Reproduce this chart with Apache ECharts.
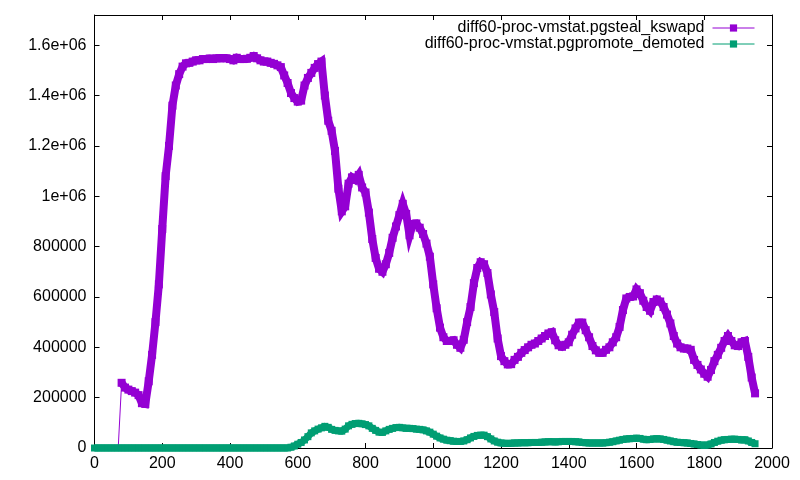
<!DOCTYPE html>
<html lang="en">
<head>
  <meta charset="UTF-8">
  <title>pgsteal_kswapd / pgpromote_demoted</title>
  <script src="https://cdn.jsdelivr.net/npm/echarts@6/dist/echarts.min.js"></script>
  <style>
    html, body { margin: 0; padding: 0; background: #fff; }
    #chart { width: 800px; height: 480px; }
  </style>
</head>
<body>
  <div id="chart"></div>

<script>
  // x positions, one sample every 10 units
  const xs = []
  for (let x = 0; x <= 1950; x += 10) xs.push(x)

  const kswapdName = 'diff60-proc-vmstat.pgsteal_kswapd'
  const demotedName = 'diff60-proc-vmstat.pgpromote_demoted'

  // 0 .. 1950
  const kswapd = [
    0, 0, 0, 0, 0, 0, 0, 0, 259000, 240000,
    232000, 226000, 220000, 210000, 178000, 175000, 265000, 370000, 500000, 650000,
    870000, 1080000, 1200000, 1360000, 1440000, 1485000, 1515000, 1528000, 1530000, 1535000,
    1540000, 1540000, 1545000, 1545000, 1547000, 1545000, 1548000, 1548000, 1549000, 1548000,
    1545000, 1540000, 1550000, 1545000, 1545000, 1546000, 1550000, 1557000, 1548000, 1540000,
    1535000, 1535000, 1530000, 1526000, 1520000, 1513000, 1480000, 1450000, 1410000, 1390000,
    1376000, 1380000, 1440000, 1470000, 1490000, 1510000, 1525000, 1535000, 1400000, 1300000,
    1260000, 1180000, 1030000, 940000, 960000, 1050000, 1075000, 1065000, 1085000, 1035000,
    1015000, 935000, 830000, 755000, 712000, 700000, 730000, 775000, 835000, 880000,
    925000, 970000, 930000, 845000, 890000, 892000, 875000, 850000, 812000, 760000,
    650000, 555000, 478000, 440000, 425000, 425000, 428000, 410000, 398000, 430000,
    500000, 560000, 655000, 715000, 738000, 730000, 695000, 610000, 540000, 435000,
    365000, 345000, 332000, 333000, 350000, 362000, 378000, 389000, 400000, 410000,
    415000, 425000, 435000, 445000, 455000, 460000, 428000, 408000, 402000, 410000,
    420000, 450000, 475000, 498000, 498000, 468000, 440000, 405000, 388000, 378000,
    378000, 390000, 400000, 420000, 440000, 481000, 548000, 594000, 600000, 602000,
    630000, 615000, 585000, 560000, 545000, 580000, 590000, 582000, 560000, 530000,
    495000, 445000, 415000, 400000, 395000, 395000, 390000, 350000, 330000, 312000,
    295000, 283000, 310000, 345000, 370000, 398000, 425000, 445000, 425000, 408000,
    405000, 420000, 425000, 362000, 280000, 217000
  ]

  const demoted = [
    0, 0, 0, 0, 0, 0, 0, 0, 0, 0,
    0, 0, 0, 0, 0, 0, 0, 0, 0, 0,
    0, 0, 0, 0, 0, 0, 0, 0, 0, 0,
    0, 0, 0, 0, 0, 0, 0, 0, 0, 0,
    0, 0, 0, 0, 0, 0, 0, 0, 0, 0,
    0, 0, 0, 0, 0, 0, 0, 0, 3000, 8000,
    15000, 22000, 32000, 45000, 60000, 68000, 75000, 80000, 86000, 82000,
    74000, 70000, 68000, 67000, 75000, 88000, 94000, 97000, 98000, 96000,
    93000, 88000, 78000, 70000, 63000, 62000, 68000, 74000, 78000, 81000,
    82000, 80000, 78000, 78000, 77000, 75000, 74000, 72000, 68000, 63000,
    55000, 47000, 40000, 35000, 31000, 29000, 27000, 26000, 26000, 28000,
    33000, 40000, 46000, 50000, 51000, 51000, 45000, 36000, 28000, 23000,
    20000, 19000, 18000, 19000, 20000, 20000, 21000, 21000, 21000, 22000,
    22000, 22000, 23000, 24000, 25000, 25000, 24000, 25000, 26000, 26000,
    26000, 26000, 25000, 24000, 22000, 21000, 20000, 20000, 20000, 20000,
    20000, 21000, 23000, 25000, 28000, 31000, 34000, 36000, 37000, 38000,
    39000, 38000, 35000, 33000, 34000, 36000, 37000, 36000, 34000, 31000,
    28000, 25000, 23000, 22000, 21000, 20000, 18000, 16000, 14000, 12000,
    11000, 12000, 16000, 22000, 27000, 31000, 33000, 34000, 35000, 35000,
    34000, 32000, 33000, 28000, 22000, 17000
  ]

  const yTicks = [0, 200000, 400000, 600000, 800000, 1000000, 1200000, 1400000, 1600000]

  const purple = '#9400d3'
  const green = '#009e73'
  const font = 'Liberation Sans, Arial, sans-serif'

  function pairs(arr, from, to) {
    const out = []
    for (let i = from; i < to; i++) out.push([xs[i], arr[i]])
    return out
  }
  // kswapd is zero until the first real sample; only a thin line rises there
  const firstK = kswapd.findIndex(v => v > 0)

  function yLabel(v) {
    if (v === 0) return '0'
    if (v >= 1000000) return parseFloat((v / 1000000).toFixed(2)) + 'e+06'
    return String(v)
  }

  const boxLine = { show: true, onZero: false, lineStyle: { color: '#000', width: 1 } }
  const tick = { show: true, inside: true, length: 5, lineStyle: { color: '#000' } }

  function legendFor(name, top) {
    return {
      data: [name], right: 45, top: top, padding: 0, align: 'right',
      itemWidth: 42, itemHeight: 9, itemGap: 0,
      textStyle: { fontSize: 16, color: '#000', fontFamily: font, padding: [0, 3, 0, 0] },
      lineStyle: { width: 1 }, itemStyle: { borderWidth: 0 }
    }
  }

  const chart = echarts.init(document.getElementById('chart'))
  chart.setOption({
    animation: false,
    backgroundColor: '#fff',
    textStyle: { fontFamily: font },
    grid: { left: 94.5, right: 28, top: 15, bottom: 32, containLabel: false },
    legend: [legendFor(kswapdName, 20), legendFor(demotedName, 36)],
    xAxis: [
      {
        type: 'value', min: 0, max: 2000, interval: 200, position: 'bottom',
        axisLine: boxLine, axisTick: tick, splitLine: { show: false },
        axisLabel: { color: '#000', fontSize: 16, margin: 8, fontFamily: font, formatter: v => String(v) }
      },
      {
        type: 'value', min: 0, max: 2000, interval: 200, position: 'top',
        axisLine: boxLine, axisTick: tick, splitLine: { show: false },
        axisLabel: { show: false }
      }
    ],
    yAxis: [
      {
        type: 'value', min: 0, max: 1720000, interval: yTicks[1] - yTicks[0], position: 'left',
        axisLine: boxLine, axisTick: tick, splitLine: { show: false },
        axisLabel: { color: '#000', fontSize: 16, margin: 8, fontFamily: font, showMaxLabel: false, formatter: yLabel }
      },
      {
        type: 'value', min: 0, max: 1720000, interval: yTicks[1] - yTicks[0], position: 'right',
        axisLine: boxLine, axisTick: tick, splitLine: { show: false },
        axisLabel: { show: false }
      }
    ],
    series: [
      {
        name: 'kswapd-lead', type: 'line', data: pairs(kswapd, 0, firstK + 1),
        showSymbol: false, symbol: 'none', z: 2,
        lineStyle: { color: purple, width: 1 }, silent: true
      },
      {
        name: kswapdName, type: 'line', data: pairs(kswapd, firstK, xs.length),
        symbol: 'rect', symbolSize: 8, showAllSymbol: true, z: 2,
        itemStyle: { color: purple },
        lineStyle: { color: purple, width: 8, join: 'miter' }
      },
      {
        name: demotedName, type: 'line', data: pairs(demoted, 0, xs.length),
        symbol: 'rect', symbolSize: 7, showAllSymbol: true, z: 3,
        itemStyle: { color: green },
        lineStyle: { color: green, width: 7, join: 'miter' }
      }
    ]
  })
</script>
</body>
</html>
